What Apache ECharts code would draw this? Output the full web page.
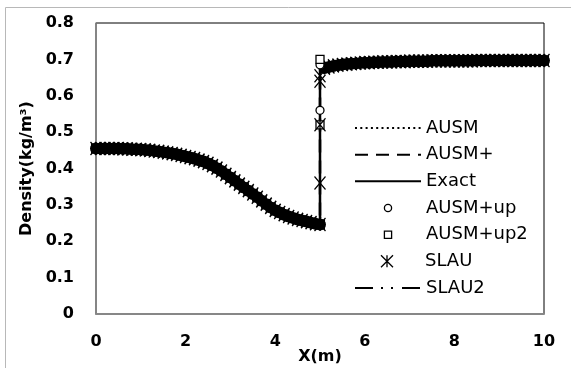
<!DOCTYPE html>
<html>
<head>
<meta charset="utf-8">
<script src="https://cdn.jsdelivr.net/npm/echarts@6/dist/echarts.min.js"></script>
<style>
  html, body { margin: 0; padding: 0; background: #ffffff; }
  #chart { width: 571px; height: 368px; }
</style>
</head>
<body>
<div id="chart"></div>
<script>
// Density along the duct (x in m, density in kg/m^3)
// Upstream of the shock
const preX = [0.0, 0.1, 0.2, 0.3, 0.4, 0.5, 0.6, 0.7, 0.8, 0.9,
              1.0, 1.1, 1.2, 1.3, 1.4, 1.5, 1.6, 1.7, 1.8, 1.9,
              2.0, 2.1, 2.2, 2.3, 2.4, 2.5, 2.6, 2.7, 2.8, 2.9,
              3.0, 3.1, 3.2, 3.3, 3.4, 3.5, 3.6, 3.7, 3.8, 3.9,
              4.0, 4.1, 4.2, 4.3, 4.4, 4.5, 4.6, 4.7, 4.8, 4.9,
              5.0];
const preRho = [0.455, 0.455, 0.455, 0.455, 0.455, 0.455, 0.454, 0.454, 0.453, 0.453,
                0.452, 0.451, 0.450, 0.448, 0.447, 0.445, 0.443, 0.441, 0.439, 0.436,
                0.433, 0.430, 0.427, 0.423, 0.419, 0.414, 0.408, 0.401, 0.393, 0.384,
                0.375, 0.366, 0.357, 0.348, 0.339, 0.330, 0.321, 0.311, 0.302, 0.293,
                0.285, 0.279, 0.273, 0.268, 0.264, 0.260, 0.257, 0.254, 0.251, 0.248,
                0.246];
// Downstream of the shock
const postX = [5.1, 5.2, 5.3, 5.4, 5.5, 5.6, 5.7, 5.8, 5.9, 6.0,
               6.1, 6.2, 6.3, 6.4, 6.5, 6.6, 6.7, 6.8, 6.9, 7.0,
               7.1, 7.2, 7.3, 7.4, 7.5, 7.6, 7.7, 7.8, 7.9, 8.0,
               8.1, 8.2, 8.3, 8.4, 8.5, 8.6, 8.7, 8.8, 8.9, 9.0,
               9.1, 9.2, 9.3, 9.4, 9.5, 9.6, 9.7, 9.8, 9.9, 10.0];
const postRho = [0.676, 0.679, 0.682, 0.684, 0.686, 0.687, 0.688, 0.689, 0.690, 0.691,
                 0.691, 0.692, 0.692, 0.693, 0.693, 0.693, 0.694, 0.694, 0.694, 0.695,
                 0.695, 0.695, 0.695, 0.695, 0.696, 0.696, 0.696, 0.696, 0.696, 0.696,
                 0.696, 0.696, 0.696, 0.696, 0.697, 0.697, 0.697, 0.697, 0.697, 0.697,
                 0.697, 0.697, 0.697, 0.697, 0.697, 0.697, 0.697, 0.697, 0.697, 0.697];
// Shock location and the states captured inside the shock by each scheme
const shockX = 5.0;
const shockTopRho = 0.70;
const ausmUpShockRho = [0.56, 0.685];
const ausmUp2ShockRho = [0.52, 0.70];
const slauShockRho = [0.36, 0.52, 0.64, 0.655];

const xTicks = { min: 0, max: 10, interval: 2 };
const yTicks = { min: 0, max: 0.8, interval: 0.1 };

function zip(xs, ys) { return xs.map((x, i) => [x, ys[i]]); }
const smoothPts = zip(preX, preRho).concat(zip(postX, postRho));
const linePts = zip(preX, preRho).concat([[shockX, shockTopRho]], zip(postX, postRho));
const atShock = (vals) => vals.map(v => [shockX, v]);

const asterisk = 'path://M0,0L10,12M10,0L0,12M5,0L5,12';
const squarePath = 'path://M0,0L10,0L10,10L0,10Z';
const hollow = { color: '#ffffff', borderColor: '#000000', borderWidth: 1.3 };
const starStyle = { color: '#000000', borderColor: '#000000', borderWidth: 1.3 };
const noMarker = { opacity: 0 };
const noLine = { opacity: 0, width: 0 };
const legendText = { fontFamily: 'DejaVu Sans', fontSize: 18, color: '#000000', lineHeight: 20 };

// marker-only series (scheme results shown as symbols)
function markers(name, data, symbol, size, style, z) {
  return { name, type: 'line', data, symbol, symbolSize: size, showSymbol: true,
           itemStyle: style, lineStyle: noLine, z };
}
// line-only series
function curve(name, width, dash) {
  return { name, type: 'line', data: linePts, symbol: 'none', showSymbol: false,
           itemStyle: { color: '#000000' },
           lineStyle: { color: '#000000', width, type: dash }, z: 3 };
}

const chart = echarts.init(document.getElementById('chart'), null, { renderer: 'canvas' });
chart.setOption({
  animation: false,
  backgroundColor: '#ffffff',
  graphic: [{
    type: 'rect', silent: true, z: -10,
    shape: { x: 5.5, y: 7.5, width: 620, height: 420 },
    style: { fill: 'none', stroke: '#b8b8b8', lineWidth: 1 }
  }],
  grid: { left: 96, right: 27, top: 23, bottom: 54, outerBoundsMode: 'none', containLabel: false,
          show: true, borderColor: '#000000', borderWidth: 1 },
  xAxis: {
    type: 'value', min: xTicks.min, max: xTicks.max, interval: xTicks.interval,
    name: 'X(m)', nameLocation: 'middle', nameGap: 35, nameMoveOverlap: false,
    nameTextStyle: { fontFamily: 'DejaVu Sans', fontWeight: 'bold', fontSize: 16, color: '#000000' },
    axisLine: { lineStyle: { color: '#878787', width: 2 } },
    axisTick: { show: false },
    splitLine: { show: false },
    axisLabel: { margin: 20, fontFamily: 'DejaVu Sans', fontWeight: 'bold', fontSize: 16, color: '#000000' }
  },
  yAxis: {
    type: 'value', min: yTicks.min, max: yTicks.max, interval: yTicks.interval,
    name: 'Density(kg/m³)', nameLocation: 'middle', nameGap: 61, nameRotate: 90, nameMoveOverlap: false,
    nameTextStyle: { fontFamily: 'DejaVu Sans', fontWeight: 'bold', fontSize: 16, color: '#000000' },
    axisLine: { show: true, lineStyle: { color: '#878787', width: 1.5 } },
    axisTick: { show: false },
    splitLine: { show: false },
    axisLabel: { margin: 22, fontFamily: 'DejaVu Sans', fontWeight: 'bold', fontSize: 16, color: '#000000' }
  },
  legend: [
    {
      orient: 'vertical', left: 354, top: 118, padding: 0,
      itemWidth: 66, itemHeight: 9, itemGap: 6.67, textStyle: legendText,
      data: [
        { name: 'AUSM', itemStyle: noMarker },
        { name: 'AUSM+', itemStyle: noMarker },
        { name: 'Exact', itemStyle: noMarker },
        { name: 'AUSM+up', itemStyle: hollow },
        { name: 'AUSM+up2', itemStyle: hollow }
      ]
    },
    {
      orient: 'vertical', left: 354, top: 251.3, padding: 0,
      itemWidth: 66, itemHeight: 15, textStyle: legendText,
      data: [{ name: 'SLAU', itemStyle: starStyle }]
    },
    {
      orient: 'vertical', left: 354, top: 278, padding: 0,
      itemWidth: 66, itemHeight: 9, textStyle: legendText,
      data: [{ name: 'SLAU2', itemStyle: noMarker }]
    }
  ],
  series: [
    markers('AUSM+up', smoothPts, 'circle', 12, { color: '#000000' }, 2),
    markers('AUSM+up2', smoothPts, squarePath, 10, { color: '#000000' }, 2),
    markers('SLAU', smoothPts, asterisk, [11, 13], { color: '#000000', borderColor: '#000000', borderWidth: 1.5 }, 2),
    curve('AUSM', 2, [2, 3.3]),
    curve('AUSM+', 2.5, [13, 8]),
    curve('Exact', 2.5, 'solid'),
    curve('SLAU2', 2, [18, 8, 2, 8, 2, 9]),
    markers('AUSM+up', atShock(ausmUpShockRho), 'circle', 8, hollow, 4),
    markers('AUSM+up2', atShock(ausmUp2ShockRho), squarePath, 8, hollow, 4),
    markers('SLAU', atShock(slauShockRho), asterisk, [11, 13], starStyle, 4)
  ]
});
</script>
</body>
</html>
